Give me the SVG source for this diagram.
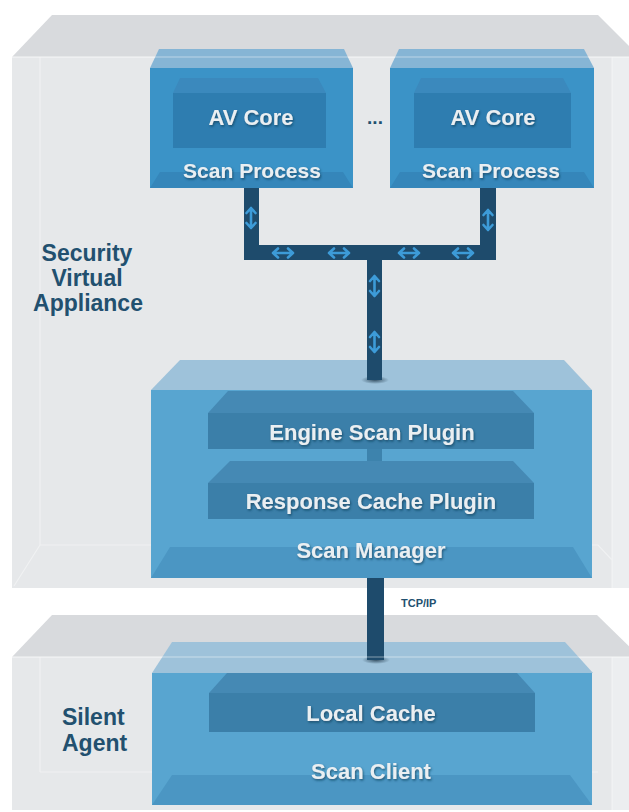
<svg xmlns="http://www.w3.org/2000/svg" width="629" height="812" viewBox="0 0 629 812">
<defs>
<style>
.otop{fill:#d8dadd}
.ofront{fill:#e6e8ea}
.oside{fill:#eceef0}
.edge{stroke:#ffffff;stroke-opacity:0.4;stroke-width:1.2;fill:none}
.sptop{fill:#86b5d5}
.spfront{fill:#3b93c7}
.spfloor{fill:#3586ba}
.avtop{fill:#3b89bd}
.avfront{fill:#2e7db0}
.bigtop{fill:#9ec2da}
.bigfront{fill:#58a5d0}
.bigfloor{fill:#4b96c3}
.pltop{fill:#4589b4}
.plfront{fill:#3b7fa9}
.bar{fill:#1e4b6c}
.lbl{font-family:"Liberation Sans",Arial,sans-serif;font-weight:bold;fill:#eaeff2;text-anchor:middle;filter:url(#ts)}
.side{font-family:"Liberation Sans",Arial,sans-serif;font-weight:bold;fill:#22506f;font-size:23px}
.arr{stroke:#3d9bd8;stroke-width:2.6;fill:none;stroke-linecap:round;stroke-linejoin:round}
</style>
<filter id="ts" x="-10%" y="-30%" width="120%" height="160%">
<feDropShadow dx="1" dy="1.5" stdDeviation="1" flood-color="#163a55" flood-opacity="0.7"/>
</filter>
<radialGradient id="sh">
<stop offset="0" stop-color="#0d2435" stop-opacity="0.7"/>
<stop offset="1" stop-color="#0d2435" stop-opacity="0"/>
</radialGradient>
<g id="ha">
<path class="arr" d="M-10 0 H10 M-5 -4.5 L-10 0 L-5 4.5 M5 -4.5 L10 0 L5 4.5"/>
</g>
</defs>
<rect width="629" height="812" fill="#ffffff"/>

<g id="security-virtual-appliance">
<polygon class="otop" points="52,15 598,15 640,57 12,57"/>
<rect class="ofront" x="12" y="57" width="617" height="531"/>
<rect class="oside" x="612" y="57" width="17" height="531"/>
<path class="edge" d="M40 57 V545 M612 57 V588 M12 57 H629 M40 545 H598 L612 560 M40 545 L14 586"/>
<text class="side" text-anchor="middle" x="87" y="261">Security</text>
<text class="side" text-anchor="middle" x="87" y="286">Virtual</text>
<text class="side" text-anchor="middle" x="88" y="311">Appliance</text>
</g>

<g id="silent-agent">
<polygon class="otop" points="52,615 597,615 640,657 12,657"/>
<rect class="ofront" x="12" y="657" width="617" height="153"/>
<rect class="oside" x="612" y="657" width="17" height="153"/>
<path class="edge" d="M40 657 V772 M612 657 V810 M12 657 H629 M40 772 H598"/>
<text class="side" x="62" y="725">Silent</text>
<text class="side" x="62" y="751">Agent</text>
</g>

<g id="scan-process-1">
<polygon class="sptop" points="159,49 344,49 353,68 150,68"/>
<rect class="spfront" x="150" y="68" width="203" height="120"/>
<polygon class="spfloor" points="160,172 343,172 353,188 150,188"/>
<g id="av-core-1">
<polygon class="avtop" points="180,78 318,78 326,93 173,93"/>
<rect class="avfront" x="173" y="93" width="153" height="55"/>
<text class="lbl" x="251" y="125" font-size="22">AV Core</text>
</g>
<text class="lbl" x="252" y="178" font-size="21">Scan Process</text>
</g>

<text x="375" y="124" font-family="Liberation Sans,Arial,sans-serif" font-weight="bold" font-size="19" fill="#22506f" text-anchor="middle">...</text>

<g id="scan-process-2">
<polygon class="sptop" points="399,49 584,49 594,68 390,68"/>
<rect class="spfront" x="390" y="68" width="204" height="120"/>
<polygon class="spfloor" points="400,172 584,172 594,188 390,188"/>
<g id="av-core-2">
<polygon class="avtop" points="421,78 563,78 571,93 414,93"/>
<rect class="avfront" x="414" y="93" width="157" height="55"/>
<text class="lbl" x="493" y="125" font-size="22">AV Core</text>
</g>
<text class="lbl" x="491" y="178" font-size="21">Scan Process</text>
</g>

<g id="scan-manager">
<polygon class="bigtop" points="180,360 564,360 592,390 151,390"/>
<rect class="bigfront" x="151" y="390" width="441" height="188"/>
<polygon class="bigfloor" points="170,547 573,547 592,578 151,578"/>
<rect x="367" y="449" width="15" height="34" fill="#3d83ad"/>
<g id="engine-scan-plugin">
<polygon class="pltop" points="228,391 513,391 534,413 208,413"/>
<rect class="plfront" x="208" y="413" width="326" height="36"/>
<text class="lbl" x="372" y="440" font-size="22">Engine Scan Plugin</text>
</g>
<g id="response-cache-plugin">
<polygon class="pltop" points="230,461 513,461 534,483 208,483"/>
<rect class="plfront" x="208" y="483" width="326" height="36"/>
<text class="lbl" x="371" y="509" font-size="22">Response Cache Plugin</text>
</g>
<text class="lbl" x="371" y="558" font-size="22">Scan Manager</text>
</g>

<g id="scan-client">
<polygon class="bigtop" points="172,642 565,642 593,673 152,673"/>
<rect class="bigfront" x="152" y="673" width="440" height="132"/>
<polygon class="bigfloor" points="172,775 570,775 592,805 152,805"/>
<g id="local-cache">
<polygon class="pltop" points="227,673 517,673 535,693 209,693"/>
<rect class="plfront" x="209" y="693" width="326" height="39"/>
<text class="lbl" x="371" y="721" font-size="22">Local Cache</text>
</g>
<text class="lbl" x="371" y="779" font-size="22">Scan Client</text>
</g>

<g id="connectors">
<ellipse cx="375" cy="380" rx="14" ry="4" fill="url(#sh)"/>
<ellipse cx="376" cy="660" rx="14" ry="4" fill="url(#sh)"/>
<path class="bar" d="M244 188 H259 V245 H480 V188 H496 V260 H382 V380 H367 V260 H244 Z"/>
<rect class="bar" x="367" y="578" width="17" height="82"/>
<use href="#ha" transform="translate(251,218) rotate(90)"/>
<use href="#ha" transform="translate(488,220) rotate(90)"/>
<use href="#ha" transform="translate(283,253)"/>
<use href="#ha" transform="translate(339,253)"/>
<use href="#ha" transform="translate(409,253)"/>
<use href="#ha" transform="translate(463,253)"/>
<use href="#ha" transform="translate(374.5,286) rotate(90)"/>
<use href="#ha" transform="translate(374.5,342) rotate(90)"/>
<text x="401" y="607" font-family="Liberation Sans,Arial,sans-serif" font-weight="bold" font-size="11" fill="#22506f">TCP/IP</text>
</g>

<path d="M12 57 H629 M12 657 H629" stroke="#ffffff" stroke-opacity="0.3" stroke-width="1.5" fill="none"/>
</svg>
